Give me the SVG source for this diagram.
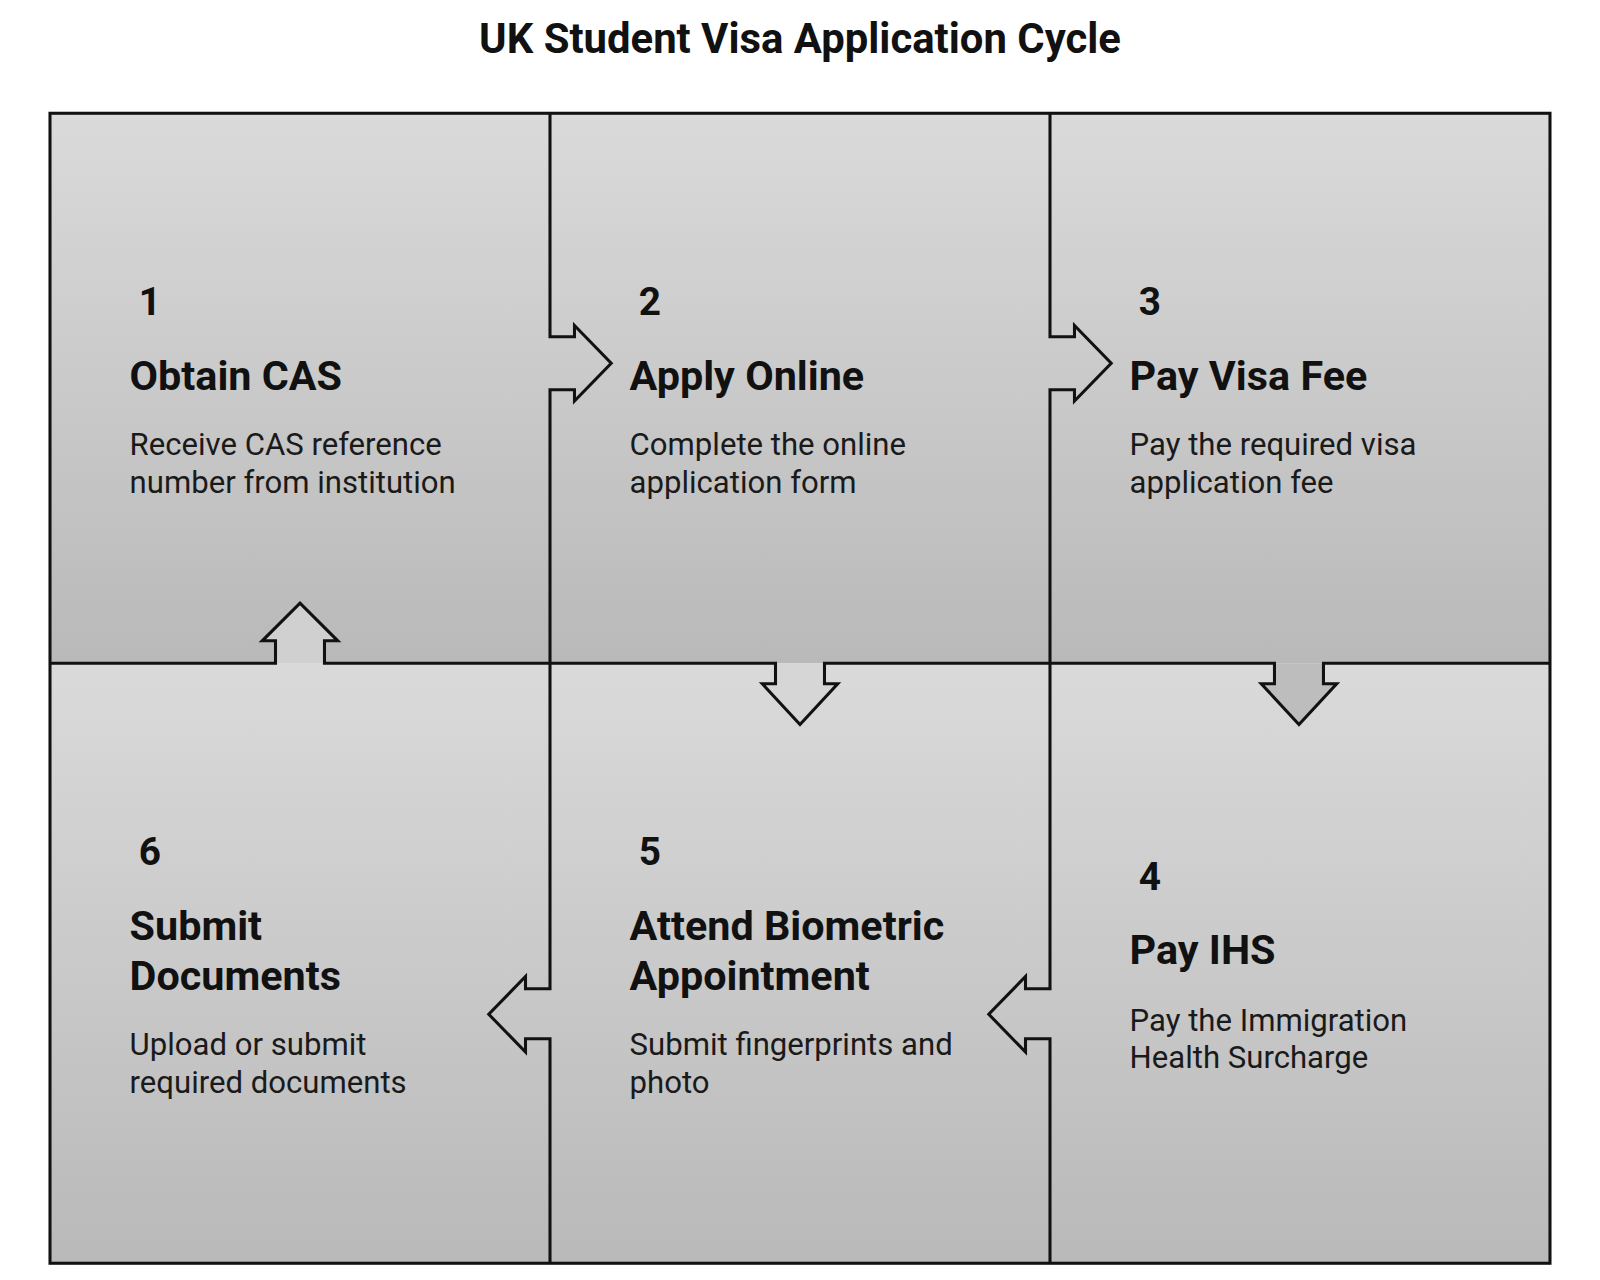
<svg xmlns="http://www.w3.org/2000/svg" width="1600" height="1280" viewBox="0 0 1600 1280">
<defs>
<linearGradient id="g1" gradientUnits="userSpaceOnUse" x1="0" y1="111" x2="0" y2="650"><stop offset="0" stop-color="#dadada"/><stop offset="1" stop-color="#b9b9b9"/></linearGradient>
<linearGradient id="g2" gradientUnits="userSpaceOnUse" x1="0" y1="650" x2="0" y2="1238"><stop offset="0" stop-color="#dadada"/><stop offset="1" stop-color="#b9b9b9"/></linearGradient>
</defs>
<style>
.ln{fill:none;stroke:#111;stroke-width:3;stroke-linejoin:miter}
.num{font-family:Roboto,"Liberation Sans",sans-serif;font-weight:bold;font-size:38px;fill:#111}
.tt{font-family:Roboto,"Liberation Sans",sans-serif;font-weight:bold;font-size:40.5px;fill:#111}
.ds{font-family:Roboto,"Liberation Sans",sans-serif;font-size:30.5px;fill:#1a1a1a}
.hd{font-family:Roboto,"Liberation Sans",sans-serif;font-weight:bold;font-size:41px;fill:#111}
</style>
<rect width="1600" height="1280" fill="#fff"/>
<g transform="scale(1.0204)">
<text class="hd" x="784" y="52" text-anchor="middle">UK Student Visa Application Cycle</text>
<g id="cells">
<rect x="49" y="111" width="1470" height="539" fill="url(#g1)"/>
<rect x="49" y="650" width="1470" height="588" fill="url(#g2)"/>
</g>
<g id="connectors">
<polygon fill="url(#g1)" points="539,330 563,330 563,319 599,356 563,393 563,382 539,382"/>
<polygon fill="url(#g1)" points="1029,330 1053,330 1053,319 1089,356 1053,393 1053,382 1029,382"/>
<polygon fill="#d6d6d6" points="760,650 760,670 747,670 784,710 821,670 808,670 808,650"/>
<polygon fill="#bdbdbd" points="1249,650 1249,670 1236,670 1273,710 1310,670 1297,670 1297,650"/>
<polygon fill="url(#g2)" points="1029,969 1005,969 1005,957 969,994 1005,1031 1005,1018 1029,1018"/>
<polygon fill="url(#g2)" points="539,969 515,969 515,957 479,994 515,1031 515,1018 539,1018"/>
<polygon fill="#d0d0d0" points="270,650 270,628 257,628 294,591 331,628 318,628 318,650"/>
<rect class="ln" x="49" y="111" width="1470" height="1127"/>
<path class="ln" d="M539,111 V330 H563 V319 L599,356 L563,393 V382 H539 V969 H515 V957 L479,994 L515,1031 V1018 H539 V1238"/>
<path class="ln" d="M1029,111 V330 H1053 V319 L1089,356 L1053,393 V382 H1029 V969 H1005 V957 L969,994 L1005,1031 V1018 H1029 V1238"/>
<path class="ln" d="M49,650 H270 V628 H257 L294,591 L331,628 H318 V650 H760 V670 H747 L784,710 L821,670 H808 V650 H1249 V670 H1236 L1273,710 L1310,670 H1297 V650 H1519"/>
</g>
<g id="n1"><text class="num" x="136" y="309">1</text><text class="tt" x="127" y="382">Obtain CAS</text><text class="ds" x="127" y="446">Receive CAS reference</text><text class="ds" x="127" y="483">number from institution</text></g>
<g id="n2"><text class="num" x="626" y="309">2</text><text class="tt" x="617" y="382">Apply Online</text><text class="ds" x="617" y="446">Complete the online</text><text class="ds" x="617" y="483">application form</text></g>
<g id="n3"><text class="num" x="1116" y="309">3</text><text class="tt" x="1107" y="382">Pay Visa Fee</text><text class="ds" x="1107" y="446">Pay the required visa</text><text class="ds" x="1107" y="483">application fee</text></g>
<g id="n4"><text class="num" x="1116" y="872">4</text><text class="tt" x="1107" y="945">Pay IHS</text><text class="ds" x="1107" y="1010">Pay the Immigration</text><text class="ds" x="1107" y="1047">Health Surcharge</text></g>
<g id="n5"><text class="num" x="626" y="848">5</text><text class="tt" x="617" y="921">Attend Biometric</text><text class="tt" x="617" y="970">Appointment</text><text class="ds" x="617" y="1034">Submit fingerprints and</text><text class="ds" x="617" y="1071">photo</text></g>
<g id="n6"><text class="num" x="136" y="848">6</text><text class="tt" x="127" y="921">Submit</text><text class="tt" x="127" y="970">Documents</text><text class="ds" x="127" y="1034">Upload or submit</text><text class="ds" x="127" y="1071">required documents</text></g>
</g>
</svg>
